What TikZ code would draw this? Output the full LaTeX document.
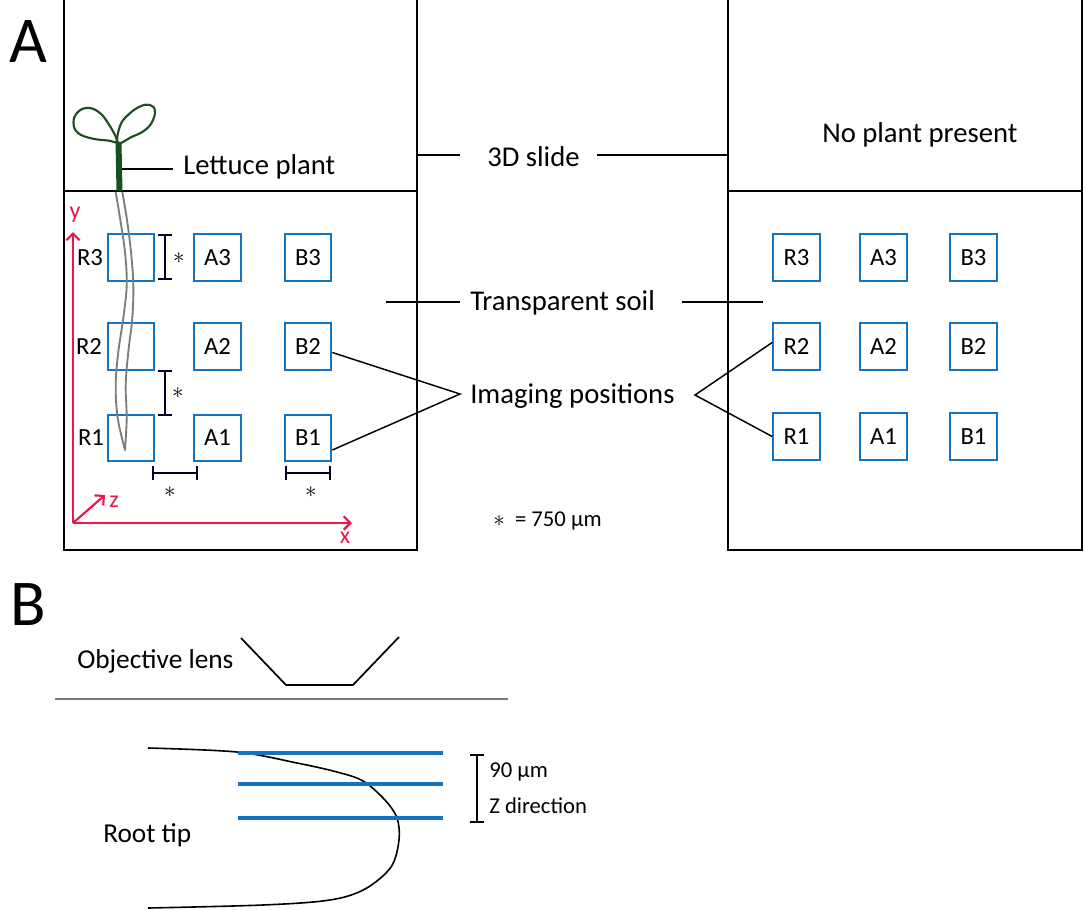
\documentclass[tikz,border=0pt]{standalone}
\usepackage{fontspec}
\setmainfont{Carlito}
\usetikzlibrary{arrows.meta,calc}
\definecolor{posblue}{RGB}{20,115,195}
\definecolor{axisred}{RGB}{236,22,72}
\definecolor{leafgreen}{RGB}{28,78,32}
\definecolor{rootgray}{RGB}{125,125,125}
\definecolor{lensgray}{RGB}{120,120,120}
\begin{document}
\begin{tikzpicture}[x=0.75pt,y=-0.75pt,
  wall/.style={line width=1.3pt,black},
  lead/.style={line width=1.1pt,black},
  scalebar/.style={line width=1.3pt,black!85!blue,{Bar[width=10pt]}-{Bar[width=10pt]}},
  posbox/.style={draw=posblue,line width=1.5pt,minimum width=35pt,minimum height=35pt,
    inner sep=0pt,font=\fontsize{18.5}{20}\selectfont},
  rowlbl/.style={inner sep=0pt,font=\fontsize{18.5}{20}\selectfont},
  lbl/.style={inner sep=0pt,font=\fontsize{21.5}{24}\selectfont},
  smalllbl/.style={inner sep=0pt,font=\fontsize{17}{19}\selectfont},
  star/.style={inner sep=0pt,font=\fontsize{19}{21}\selectfont},
  panel/.style={inner sep=0pt,font=\fontsize{49}{52}\selectfont},
  axis/.style={draw=axisred,line width=1.6pt,-{Straight Barb[length=5pt,width=10pt]}},
  axislbl/.style={inner sep=0pt,text=axisred,font=\fontsize{18}{20}\selectfont},
]
\useasboundingbox (0,0) rectangle (1085,910);

% ---------- panel letters ----------
\node[panel,anchor=base west] (panelA) at (9,62) {A};
\node[panel,anchor=base west] (panelB) at (10,625) {B};

% ---------- the two slides ----------
\draw[wall] (64,0) -- (64,550) -- (417,550) -- (417,0);
\draw[wall] (64,191) -- (417,191);
\draw[wall] (728,0) -- (728,550) -- (1082,550) -- (1082,0);
\draw[wall] (728,191) -- (1082,191);

% ---------- imaging positions, left slide ----------
\foreach \row/\cy in {3/257.5,2/346.5,1/438}{
  \node[posbox] (LR\row) at (131,\cy) {};
  \node[posbox] (LA\row) at (217.5,\cy) {A\row};
  \node[posbox] (LB\row) at (308,\cy) {B\row};
}
\node[rowlbl] (lR3) at (90,257.5) {R3};
\node[rowlbl] (lR2) at (89,346.5) {R2};
\node[rowlbl] (lR1) at (91,438) {R1};

% ---------- imaging positions, right slide ----------
\foreach \row/\cy in {3/257.5,2/346.5,1/436.5}{
  \node[posbox] (RR\row) at (796.5,\cy) {R\row};
  \node[posbox] (RA\row) at (883.5,\cy) {A\row};
  \node[posbox] (RB\row) at (973.5,\cy) {B\row};
}

% ---------- scale bars ----------
\draw[scalebar] (165,234) -- (165,280);
\node[star] (s1) at (179,258) {$\ast$};
\draw[scalebar] (165,370) -- (165,416);
\node[star] (s2) at (178,393) {$\ast$};
\draw[scalebar] (152,473) -- (198,473);
\node[star] (s3) at (170,492) {$\ast$};
\draw[scalebar] (285,473) -- (331,473);
\node[star] (s4) at (311,492) {$\ast$};
\node[smalllbl,anchor=base west] (scale) at (493,526) {$\ast$\ \ = 750 µm};

% ---------- axes ----------
\coordinate (o) at (73,523);
\draw[axis] (o) -- (352,523);
\draw[axis] (o) -- (73,232);
\draw[axis] (o) -- (105,495);
\node[axislbl] (xl) at (345,538) {x};
\node[axislbl] (yl) at (75,215) {y};
\node[axislbl] (zl) at (114,502) {z};

% ---------- lettuce seedling ----------
\draw[rootgray,line width=1.4pt,line join=round] plot[smooth,tension=0.6] coordinates{
  (115.7,192) (120,218) (125,252) (126.7,285) (123.3,318) (118.3,352) (115.7,385) (117.7,418) (125,450)}
  -- plot[smooth,tension=0.6] coordinates{
  (125,450) (126.7,418) (125.7,385) (128.3,352) (132.3,318) (133.3,285) (131,252) (126.7,218) (122.3,192)};
\draw[leafgreen,line width=1.6pt] plot[smooth cycle,tension=0.7] coordinates{
  (117,141) (108,123) (98,111.5) (86.5,108) (77,113) (73.5,123) (78,133) (92,138.5) (108,140.5)};
\draw[leafgreen,line width=1.6pt] plot[smooth cycle,tension=0.7] coordinates{
  (118,143) (120,126) (128,115) (140,106.5) (150,105) (155,111) (151.5,123) (143,131.5) (131.5,137)};
\draw[leafgreen,line width=4.5pt] (118.5,142) -- (119.5,191);
\coordinate (stem) at (122,169);

% ---------- labels and leader lines ----------
\node[lbl,anchor=base west] (lettuce) at (183,174) {Lettuce plant};
\draw[lead] (stem) -- (173,169);

\node[lbl,anchor=base west] (slide) at (487,166) {3D slide};
\coordinate (slL) at (417,155);
\coordinate (slR) at (728,155);
\draw[lead] (slL) -- (460,155);
\draw[lead] (597,155) -- (slR);

\node[lbl,anchor=base west] (soil) at (470,310) {Transparent soil};
\coordinate (soL) at (386,302);
\coordinate (soR) at (763,302);
\draw[lead] (soL) -- (460,302);
\draw[lead] (682,302) -- (soR);

\node[lbl,anchor=base west] (noplant) at (822,142) {No plant present};

\node[lbl,anchor=base west] (imaging) at (470,403) {Imaging positions};
\coordinate (ipL) at (460,394);
\coordinate (ipR) at (695,395);
\draw[lead] ([yshift=-4.5pt]LB2.east) -- (ipL) -- ([yshift=-9pt]LB1.east);
\draw[lead] ([yshift=3pt]RR2.west) -- (ipR) -- ([yshift=0pt]RR1.west);

% ---------- panel B: objective lens ----------
\node[lbl,anchor=base west,font=\fontsize{20.5}{23}\selectfont] (objective) at (77,668) {Objective lens};
\draw[line width=1.3pt,line join=round] (241,638) -- (286,685) -- (353,685) -- (399,637);
\draw[lensgray,line width=0.8pt] (55,699) -- (508,699);

% ---------- panel B: root tip and focal planes ----------
\draw[black,line width=1.2pt] plot[smooth,tension=0.55] coordinates{
  (148,748) (237,752) (297,763) (337,772) (363,781) (385,800) (397,818) (399,840)
  (391,867) (365,889) (330,900) (263,905) (148,908)};
\foreach \y in {753,784,818}
  \draw[posblue,line width=3pt] (238,\y) -- (443,\y);
\node[lbl,anchor=base west,font=\fontsize{20.5}{23}\selectfont] (roottip) at (103,842) {Root tip};
\draw[line width=1.2pt,{Bar[width=11pt]}-{Bar[width=11pt]}] (477,754) -- (477,823);
\node[smalllbl,anchor=base west] (zstep) at (489,777) {90 µm};
\node[smalllbl,anchor=base west] (zdir) at (489,813) {Z direction};
\end{tikzpicture}
\end{document}
